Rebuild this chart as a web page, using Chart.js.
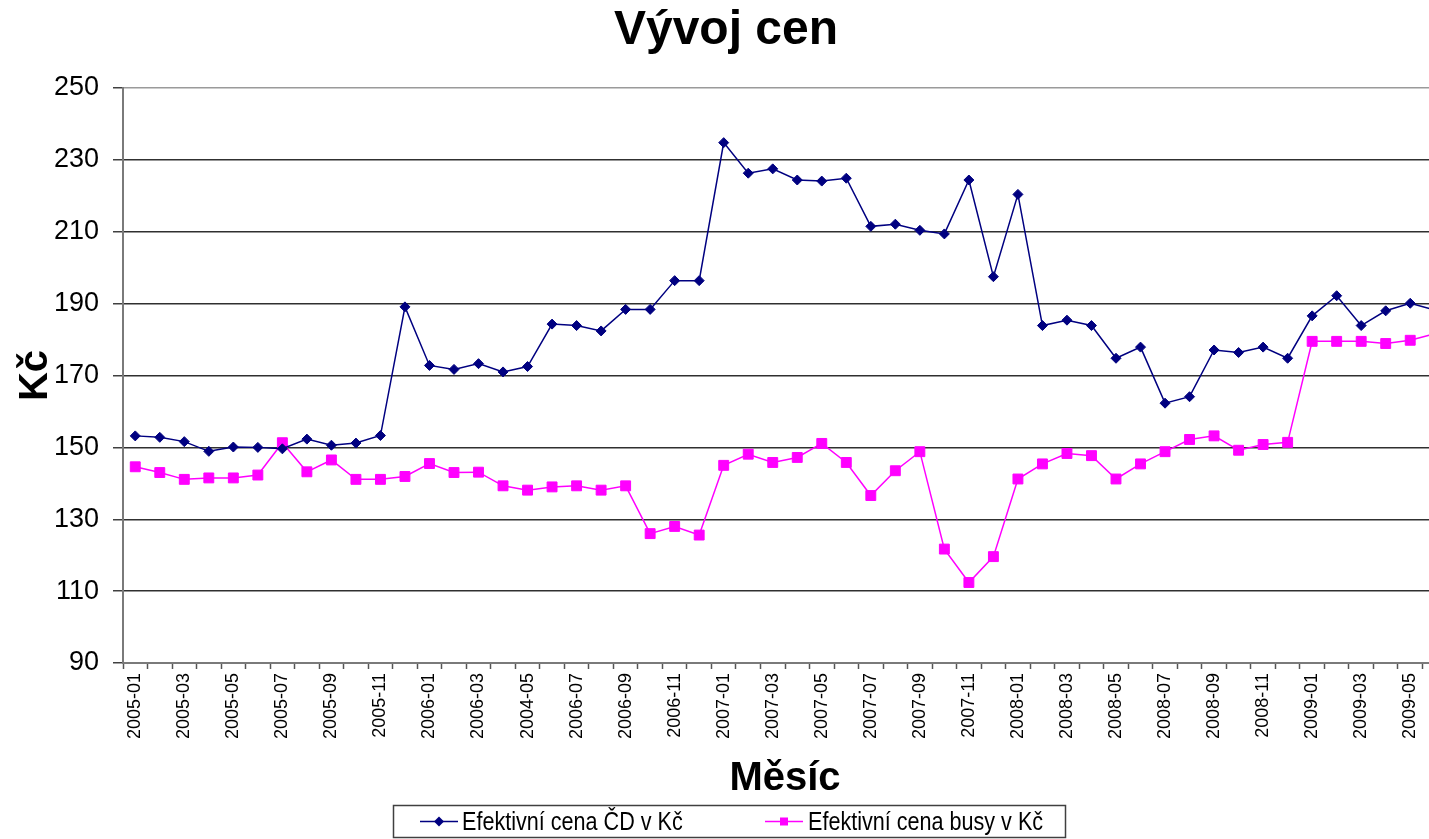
<!DOCTYPE html>
<html>
<head>
<meta charset="utf-8">
<script src="https://cdn.jsdelivr.net/npm/chart.js@4/dist/chart.umd.min.js"></script>
<style>
html,body{margin:0;padding:0;background:#fff;overflow:hidden}
#wrap{width:1429px;height:839px;overflow:hidden;position:relative;background:#fff}
canvas{display:block}
</style>
</head>
<body>
<div id="wrap"><canvas id="c" width="1455" height="839"></canvas></div>
<script>
// ---- data ----
const months = [
  "2005-01","2005-02","2005-03","2005-04","2005-05","2005-06","2005-07","2005-08","2005-09","2005-10","2005-11","2005-12",
  "2006-01","2006-02","2006-03","2006-04","2006-05","2006-06","2006-07","2006-08","2006-09","2006-10","2006-11","2006-12",
  "2007-01","2007-02","2007-03","2007-04","2007-05","2007-06","2007-07","2007-08","2007-09","2007-10","2007-11","2007-12",
  "2008-01","2008-02","2008-03","2008-04","2008-05","2008-06","2008-07","2008-08","2008-09","2008-10","2008-11","2008-12",
  "2009-01","2009-02","2009-03","2009-04","2009-05","2009-06"
];
// labels shown under every other month (as printed in the original, incl. "2004-05")
const tickLabels = [
  "2005-01","2005-03","2005-05","2005-07","2005-09","2005-11",
  "2006-01","2006-03","2004-05","2006-07","2006-09","2006-11",
  "2007-01","2007-03","2007-05","2007-07","2007-09","2007-11",
  "2008-01","2008-03","2008-05","2008-07","2008-09","2008-11",
  "2009-01","2009-03","2009-05"
];
const cdPrices = [
  153.2,152.8,151.6,148.9,150.1,150.0,149.6,152.3,150.6,151.2,153.3,189.1,
  172.8,171.7,173.3,171.0,172.5,184.3,183.9,182.4,188.4,188.4,196.4,196.4,
  234.8,226.3,227.5,224.4,224.1,224.9,211.5,212.1,210.4,209.4,224.4,197.5,
  220.4,183.9,185.4,183.9,174.8,177.9,162.3,164.1,177.1,176.4,177.9,174.8,
  186.6,192.2,183.9,188.0,190.1,188.2
];
const busPrices = [
  144.6,143.0,141.1,141.5,141.5,142.3,151.3,143.2,146.5,141.1,141.1,141.9,
  145.5,143.0,143.1,139.3,138.1,139.0,139.3,138.1,139.3,126.0,128.0,125.6,
  145.0,148.1,145.8,147.2,151.1,145.8,136.6,143.5,148.8,121.7,112.4,119.6,
  141.2,145.4,148.3,147.7,141.2,145.4,148.8,152.2,153.2,149.2,150.8,151.4,
  179.5,179.5,179.5,178.9,179.8,181.6
];
const seriesNames = ["Efektivní cena ČD v Kč", "Efektivní cena busy v Kč"];
const chartTitle = "Vývoj cen";
const yTitle = "Kč";
const xTitle = "Měsíc";
const yMin = 90, yMax = 250, yStep = 20;

// ---- rendering ----
const FONT = "'Liberation Sans', Arial, Helvetica, sans-serif";
Chart.defaults.font.family = FONT;
Chart.defaults.color = '#000';

const legendBox = {
  id: 'legendBox',
  afterDraw(chart) {
    const ctx = chart.ctx;
    ctx.save();
    ctx.strokeStyle = '#404040';
    ctx.lineWidth = 1.5;
    ctx.strokeRect(393.5, 805.5, 672, 32);
    const items = [{x: 420, textX: 462}, {x: 765, textX: 808}];
    chart.data.datasets.forEach((ds, i) => {
      const it = items[i];
      const y = 821.5;
      ctx.strokeStyle = ds.borderColor;
      ctx.lineWidth = 1.5;
      ctx.beginPath();
      ctx.moveTo(it.x, y);
      ctx.lineTo(it.x + 38, y);
      ctx.stroke();
      const cx = it.x + 19;
      ctx.fillStyle = ds.pointBackgroundColor;
      ctx.beginPath();
      if (ds.pointStyle === 'rectRot') {
        const r = 5;
        ctx.moveTo(cx, y - r); ctx.lineTo(cx + r, y); ctx.lineTo(cx, y + r); ctx.lineTo(cx - r, y);
        ctx.closePath();
      } else {
        ctx.rect(cx - 4, y - 4, 8, 8);
      }
      ctx.fill();
      ctx.save();
      ctx.translate(it.textX, 830);
      ctx.scale(0.83, 1);
      ctx.fillStyle = '#000';
      ctx.font = '26px ' + FONT;
      ctx.textBaseline = 'alphabetic';
      ctx.textAlign = 'left';
      ctx.fillText(ds.label, 0, 0);
      ctx.restore();
    });
    ctx.restore();
  }
};

new Chart(document.getElementById('c'), {
  type: 'line',
  data: {
    labels: months,
    datasets: [
      {
        label: seriesNames[0],
        data: cdPrices,
        borderColor: '#000080',
        backgroundColor: '#000080',
        pointBackgroundColor: '#000080',
        pointBorderColor: '#000080',
        pointStyle: 'rectRot',
        pointRadius: 5,
        pointBorderWidth: 1,
        borderWidth: 1.5,
        tension: 0,
        fill: false
      },
      {
        label: seriesNames[1],
        data: busPrices,
        borderColor: '#ff00ff',
        backgroundColor: '#ff00ff',
        pointBackgroundColor: '#ff00ff',
        pointBorderColor: '#ff00ff',
        pointStyle: 'rect',
        pointRadius: 7,
        pointBorderWidth: 1,
        borderWidth: 1.5,
        tension: 0,
        fill: false
      }
    ]
  },
  options: {
    responsive: false,
    animation: false,
    devicePixelRatio: 1,
    layout: { padding: { left: 0, right: 3, top: 0, bottom: 36 } },
    plugins: {
      legend: { display: false },
      tooltip: { enabled: false },
      title: {
        display: true,
        text: chartTitle,
        color: '#000',
        font: { size: 48, weight: 'bold', family: FONT, lineHeight: 1.2 },
        padding: { top: 2, bottom: 28.4 }
      }
    },
    scales: {
      x: {
        type: 'category',
        offset: true,
        grid: {
          offset: true,
          drawOnChartArea: false,
          drawTicks: true,
          tickLength: 6,
          tickColor: '#555',
          tickWidth: 1.5
        },
        border: { display: true, color: '#7a7a7a', width: 2 },
        ticks: {
          autoSkip: false,
          minRotation: 90,
          maxRotation: 90,
          padding: 4,
          color: '#000',
          font: { size: 18, family: FONT },
          callback: function(val, i) { return i % 2 === 0 ? tickLabels[i / 2] : ''; }
        },
        title: {
          display: true,
          text: xTitle,
          color: '#000',
          font: { size: 40, weight: 'bold', family: FONT, lineHeight: 1.2 },
          padding: { top: 0, bottom: 0 }
        },
        afterFit: function(scale) {
          scale.height = 140;
          scale.paddingLeft = 0;
          scale.paddingRight = 0;
        }
      },
      y: {
        min: yMin,
        max: yMax,
        grid: {
          color: function(c) {
            if (c.tick && c.tick.value === yMax) return '#9a9a9a';
            if (c.tick && c.tick.value === yMin) return '#7a7a7a';
            return '#303030';
          },
          lineWidth: 1.5,
          drawTicks: true,
          tickLength: 10,
          tickColor: '#404040',
          tickWidth: 1.5
        },
        border: { display: true, color: '#7a7a7a', width: 2 },
        ticks: {
          stepSize: yStep,
          padding: 14,
          color: '#000',
          font: { size: 27, family: FONT }
        },
        title: {
          display: true,
          text: yTitle,
          color: '#000',
          font: { size: 40, weight: 'bold', family: FONT, lineHeight: 1.2 },
          padding: { top: 12, bottom: 0 }
        },
        afterFit: function(scale) { scale.width = 123; }
      }
    }
  },
  plugins: [legendBox]
});
</script>
</body>
</html>
